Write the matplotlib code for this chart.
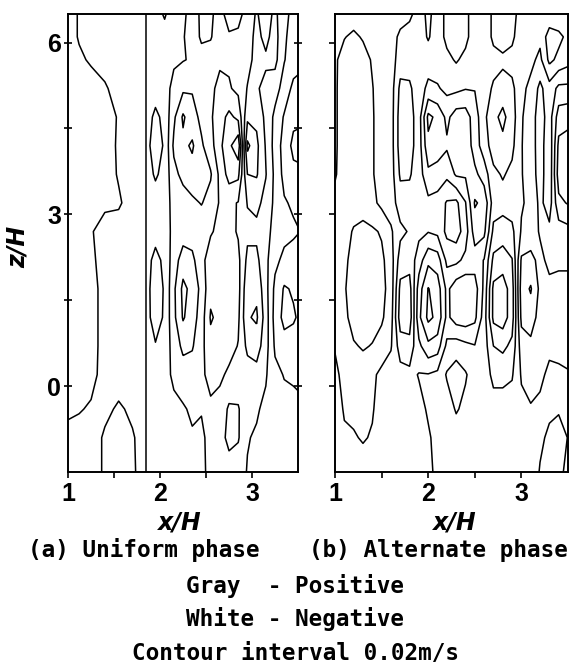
import numpy as np
import matplotlib.pyplot as plt

# measurement rows (z/H), top to bottom
z_rows = [6.5, 6.1, 5.7, 5.2, 4.7, 4.2, 3.7, 3.2, 2.7, 2.2, 1.7, 1.2, 0.7, 0.2, -0.4, -0.9, -1.5]

# (a) uniform phase: x/H stations and velocity (cm/s) at each z row
x_uniform = [1.0, 1.12, 1.25, 1.4, 1.55, 1.7, 1.85, 1.95, 2.05, 2.15, 2.25, 2.35,
             2.45, 2.55, 2.65, 2.75, 2.85, 2.95, 3.05, 3.15, 3.25, 3.35, 3.45, 3.55]
u_uniform = [
    [1, 1, 1, 1, 1, 1, 1, 1, 1, 1, 1, 1, 1, 1, 0.6, -1, -1],
    [-0.2, -0.2, 0.4, 1, 1, 1, 1, 1, 1, 1, 1, 1, 1, 1, 0.2, -1, -1],
    [-1, -1, -0.3, 1, 1, 1, 1, 0.8, 0.2, 0.5, 1, 1, 1, 0.8, -0.3, -1, -1],
    [-1, -1, -1, 0.3, 1, 1, 1, 0.5, -1, -1, -1, -1, -1, -1, -1.5, -2.3, -2.3],
    [-1, -1, -1, -1, -0.2, -0.3, -0.2, 0.3, -1, -1, -1, -1, -1, -1, -2.3, -3, -3],
    [-1, -1, -1, -1, -1, -1, -1, -1, -1, -1, -1, -1, -1, -1, -1.6, -2.2, -2.3],
    [-1, -1, -1, -1, -1, -1, -1, -1, -1, -1, -1, -1, -1, -1, -1, -1, -1],
    [-1, -1, -1, -1, 0.5, 1.5, 0.3, -1, -1, 0.8, 1.5, 1.3, -0.2, -1, -1, -1, -1],
    [0.3, -1, -1, -1.2, -0.6, -0.4, -0.7, -1.2, -1.2, -0.6, -0.3, -0.4, -0.9, -1.3, -1.1, -1, -1],
    [-1.5, -1.6, -1.7, -2.6, -3.6, -4.4, -3.4, -2.6, -2.5, -3, -3.6, -3.5, -2.8, -2.4, -1.5, -1.3, -1.2],
    [-1.8, -1.9, -1.9, -3.6, -6.3, -5.5, -4.6, -3, -3, -5, -6.5, -6.2, -4.5, -3, -1.8, -1.6, -1.4],
    [-2.4, -2.6, -2.2, -3.8, -4.8, -6.3, -5.2, -3.6, -3, -4.5, -5.4, -5, -4.2, -3, -2.3, -1.8, -1.6],
    [-4.6, -4.4, -3, -3, -3.5, -4.3, -4.6, -4.1, -2.8, -2.6, -3.4, -3, -2.6, -2.3, -2.1, -1.7, -1.5],
    [-4.5, -4.2, -2.8, -2.4, -2.3, -2.8, -4.2, -3.3, -2.2, -1, -0.5, 0.2, -0.6, -1.5, -2.3, -2.5, -2.6],
    [-2.8, -2.6, -2.3, -1.5, -0.8, -0.5, -1.5, -1.8, -1.5, -0.6, -0.4, -0.5, -0.8, -1.6, -2.8, -3.3, -3.2],
    [-1, -2.3, -2.3, -1.8, 0.5, 1.5, 0.8, -1.6, -1.4, -0.8, -0.6, -0.8, -1.2, -2.4, -4.3, -4.5, -3.2],
    [-1.2, -2.5, -2.8, -2.5, -0.5, 3.5, 0.5, -2.1, -2.2, -1.5, -1.3, -1.6, -2.1, -2.6, -4.2, -4.2, -2.8],
    [-3, -3.2, -3.4, -4.1, -5.5, -8.5, -6, -4.1, -3.5, -4.5, -5.5, -5.8, -4.5, -3, -2.4, -2.1, -1.9],
    [-4.2, -4.5, -4.6, -4.2, -5.5, -6.5, -6.2, -4.5, -3.5, -4.5, -5.5, -6.3, -5, -3.2, -2.2, -1.8, -1.5],
    [-3, -3.5, -4.3, -3.5, -3.5, -3.8, -4.1, -3.4, -2.8, -2.5, -2.7, -3, -2.8, -2.2, -1.6, -1.5, -1.6],
    [-4.5, -4.8, -4.6, -2.8, -1.5, -1.2, -1.5, -1.5, -1.2, -0.5, 0.5, 0.8, 0.3, -0.5, -1, -1.2, -1.8],
    [-2.5, -2.3, -2.1, -1.2, 0.2, 0.8, 0.6, -0.2, -0.6, 0.5, 2.2, 2.6, 1.2, 0.1, -0.6, -0.8, -1],
    [-1.5, -1.2, -1, 0.5, 1.5, 2.5, 1.5, 0.3, -0.3, 0.8, 1.8, 2.2, 1.3, 0.2, -0.4, -0.6, -0.8],
    [-1, -0.8, -0.5, 0.8, 1.8, 2.4, 1.8, 0.6, 0.1, 0.6, 1.2, 1.5, 1, 0.3, -0.2, -0.4, -0.6],
]

# (b) alternate phase
x_alternate = [1.0, 1.1, 1.2, 1.3, 1.4, 1.5, 1.6, 1.7, 1.8, 1.9, 2.0, 2.1, 2.2,
               2.3, 2.4, 2.5, 2.6, 2.7, 2.8, 2.9, 3.0, 3.1, 3.2, 3.3, 3.4, 3.55]
u_alternate = [
    [-1, -1, -0.3, -0.3, -0.3, -0.3, -0.2, 0.6, 1, 1, 1, 0.8, 0.2, -0.6, -1, -1, -1],
    [-1, -0.1, 0.8, 1, 1, 1, 1, 1, 1.2, 1.5, 1.8, 1.5, 1.2, 0.8, 0.2, -0.3, -1],
    [-1, 0.4, 1, 1, 1, 1, 1, 1, 2.2, 2.8, 3, 2.8, 1.8, 1, 0.5, -0.2, -1],
    [-1, -0.2, 0.8, 1, 1, 1, 1, 1.2, 2.5, 3, 3.2, 3, 2.2, 1, 0.7, 0.2, -1],
    [-1, -1, -0.2, 0.1, 0.2, 0.2, 0.2, 0.5, 2.3, 2.8, 3, 2.8, 1.9, 0.4, 0.2, -0.2, -1],
    [-1, -1, -1, -1, -1, -1, -1, -0.5, 1.8, 2.4, 2.6, 2.3, 1.2, -0.5, -1, -1, -1],
    [-1, -1, -1, -1, -1, -1, -1, -1, 0.3, 1, 1.2, 0.9, 0.2, -1, -1, -1, -1],
    [-1, -2.5, -3, -4.5, -5, -5, -4.3, -3, -1.5, -3, -4.5, -5, -3, -1.2, -1, -1, -1],
    [-1.5, -3, -3.2, -4.3, -4.8, -4.8, -4.2, -3.2, -2.2, -3.2, -4.8, -5.2, -3.2, -1.5, -1.2, -1, -1],
    [-3, -3, -3, -3, -3, -3, -3, -3, -2.5, -1, 1, 1.5, -0.5, -2.1, -1.5, -1.2, -1],
    [-1.5, -1.8, -3, -1.5, 2.5, 1.5, -0.5, -2.5, -2.1, 1.5, 4.1, 4.5, 1.5, -2.1, -2.2, -1.8, -1.5],
    [-3, -3, -3, -1.8, 1.5, 1, -0.8, -2.8, -2.5, 1, 3, 3.5, 1, -2.5, -3, -2.5, -2.5],
    [-4.5, -4.5, -3.5, -2.5, -0.5, 0.3, -1.5, -4.2, -4.5, -2.5, -0.5, -0.5, -2.5, -4.2, -3, -2.5, -2.5],
    [-5.2, -5, -4.2, -2.5, 1, 1.8, 0.3, -4.5, -5, -2.5, 1.2, 1, -3, -5, -4.2, -3, -2.8],
    [-4.5, -4.5, -3.5, -2.1, 1, 1.5, 0.3, -2.1, -3, -1.5, 1.5, 1.2, -2.5, -4.2, -3.5, -3, -2.8],
    [-3, -3, -2.5, -2.1, -1, -1, 0.5, 2.2, 1, -1, 1, 0.5, -2.1, -3, -3, -2.5, -2.5],
    [-2.5, -2.5, -2.5, -3, -3.5, -3, -1, 1.5, 0.5, -2.1, -2.5, -3, -3, -3, -3, -2.5, -2.5],
    [-4.5, -4.5, -3.2, -4.3, -5.5, -5, -3.5, -3, -4.5, -6.5, -8.5, -8.5, -6, -4.5, -3.2, -3, -2.8],
    [-5.2, -5.2, -3.5, -5, -6.5, -5.5, -4.2, -3.2, -5, -7, -9, -9, -6.5, -4.5, -3.2, -3, -2.8],
    [-5, -4.5, -3.2, -4.5, -5, -4.5, -3.5, -3, -4.5, -6.1, -7, -7, -5.5, -4.2, -3, -2.8, -2.8],
    [-2.8, -2.5, -2.5, -2.5, -2.2, -2.1, -2.1, -2.2, -1.8, 0.3, 1, 0.5, -1, -1.8, -2.5, -2.5, -2.5],
    [-2.5, -2.5, -2.5, -1.5, -1, -1, -1.2, -1.5, -1, 0.5, 2.2, 1, -0.5, -1.5, -2.1, -2.2, -2.3],
    [-2.1, -2.5, -1.5, 0.5, 1, 1, 1, 0.5, 0.2, -0.5, -0.5, -0.8, -1, -1.5, -2.5, -3.5, -4.2],
    [-2.5, -5, -4.5, -1.2, -1, -1.5, -1.5, -1, 0.5, 0.5, -0.5, -1, -1.5, -2.5, -3.5, -4.5, -4.8],
    [-2.5, -4.5, -3.5, 0.5, 3, 4.5, 5, 3.5, 1, 0.3, -0.5, -0.8, -1.2, -2.5, -3.8, -4.8, -4.5],
    [-2.1, -3, -2.5, 0.5, 3.5, 5, 5.5, 4.5, 1.5, 0.3, -0.5, -0.5, -1, -2.1, -3, -3.5, -3],
]

wall_x = [1.85]   # straight line in panel (a)
contour_levels = [-0.08, -0.06, -0.04, -0.02, 0.0, 0.02, 0.04, 0.06, 0.08]

fig = plt.figure(figsize=(5.72, 6.69), dpi=100)
ax_a = fig.add_axes([0.119, 0.2945, 0.402, 0.6846])
ax_b = fig.add_axes([0.5857, 0.2945, 0.4073, 0.6846])

z_up = np.array(z_rows)[::-1]
tick_font = dict(family=['Liberation Sans', 'DejaVu Sans'], weight='bold', size=18)

for ax, xs, cols in [(ax_a, x_uniform, u_uniform), (ax_b, x_alternate, u_alternate)]:
    u = (np.array(cols).T / 100.0)[::-1]
    ax.contour(xs, z_up, u, levels=contour_levels, colors='black',
               linewidths=1.1, linestyles='solid')
    ax.set_xlim(1, 3.5)
    ax.set_ylim(-1.5, 6.5)
    ax.set_xticks([1, 2, 3])
    ax.set_xticks([1.5, 2.5], minor=True)
    ax.set_xticklabels(['1', '2', '3'], fontdict=tick_font)
    ax.tick_params(axis='x', which='both', direction='out', length=4, width=1.2, pad=3)
    for s in ax.spines.values():
        s.set_linewidth(1.4)

for xv in wall_x:
    ax_a.axvline(xv, color='black', linewidth=1.1)

ax_a.set_yticks([0, 3, 6])
ax_a.set_yticks([1.5, 4.5], minor=True)
ax_a.set_yticklabels(['0', '3', '6'], fontdict=tick_font)
ax_a.tick_params(axis='y', which='both', direction='inout', length=6, width=1.2, right=True, pad=2)

ax_b.set_yticks([0, 1.5, 3, 4.5, 6])
ax_b.set_yticklabels([])
ax_b.tick_params(axis='y', direction='out', length=4, width=1.2)

lab = dict(style='italic', weight='bold', size=17, ha='center', va='center')
fig.text(180 / 572, 1 - 522 / 669, 'x/H', **lab)
fig.text(455 / 572, 1 - 522 / 669, 'x/H', **lab)
fig.text(18 / 572, 1 - 247 / 669, 'z/H', rotation=90, **lab)

cap = dict(family='DejaVu Sans Mono', weight='bold', size=16.3, ha='center', va='center')
fig.text(144 / 572, 1 - 550 / 669, '(a) Uniform phase', **cap)
fig.text(438 / 572, 1 - 550 / 669, '(b) Alternate phase', **cap)
fig.text(295 / 572, 1 - 586 / 669, 'Gray  - Positive', **cap)
fig.text(295 / 572, 1 - 619 / 669, 'White - Negative', **cap)
fig.text(295 / 572, 1 - 653 / 669, 'Contour interval 0.02m/s', **cap)

fig.savefig('out.png', dpi=100)
